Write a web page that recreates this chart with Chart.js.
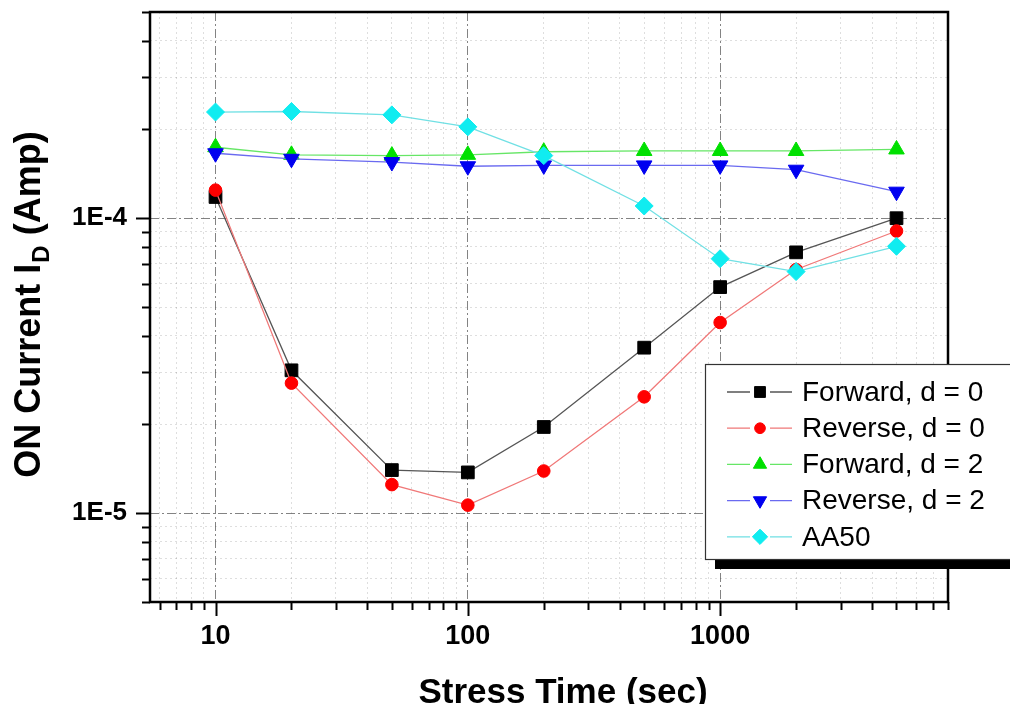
<!DOCTYPE html>
<html>
<head>
<meta charset="utf-8">
<script src="https://cdn.jsdelivr.net/npm/chart.js@4.4.1/dist/chart.umd.min.js"></script>
<style>
  html, body { margin: 0; padding: 0; background: #fff; }
  #wrap { width: 1010px; height: 704px; position: relative; overflow: hidden; }
</style>
</head>
<body>
<div id="wrap"><canvas id="chart" width="1010" height="704"></canvas></div>
<script>
// stress time (sec) and ON current (A) per device
const stressTime = [10, 20, 50, 100, 200, 500, 1000, 2000, 5000];
const forwardD0 = [1.18e-4, 3.05e-5, 1.40e-5, 1.375e-5, 1.96e-5, 3.64e-5, 5.84e-5, 7.66e-5, 1.0e-4];
const reverseD0 = [1.245e-4, 2.76e-5, 1.25e-5, 1.065e-5, 1.39e-5, 2.48e-5, 4.43e-5, 6.7e-5, 9.05e-5];
const forwardD2 = [1.74e-4, 1.64e-4, 1.63e-4, 1.64e-4, 1.68e-4, 1.69e-4, 1.69e-4, 1.69e-4, 1.71e-4];
const reverseD2 = [1.66e-4, 1.59e-4, 1.55e-4, 1.50e-4, 1.51e-4, 1.51e-4, 1.51e-4, 1.46e-4, 1.23e-4];
const aa50 = [2.29e-4, 2.30e-4, 2.24e-4, 2.04e-4, 1.63e-4, 1.10e-4, 7.29e-5, 6.59e-5, 8.03e-5];

const seriesLabels = ['Forward, d = 0', 'Reverse, d = 0', 'Forward, d = 2', 'Reverse, d = 2', 'AA50'];

// tick positions (log axes, one mark per 1..9 step) and the ones that get a label
const xTicks = [6, 7, 8, 9, 10, 20, 30, 40, 50, 60, 70, 80, 90, 100, 200, 300, 400, 500, 600, 700, 800, 900,
  1000, 2000, 3000, 4000, 5000, 6000, 7000, 8000];
const xLabels = [10, 100, 1000];
const yTicks = [5e-6, 6e-6, 7e-6, 8e-6, 9e-6, 1e-5, 2e-5, 3e-5, 4e-5, 5e-5, 6e-5, 7e-5, 8e-5, 9e-5,
  1e-4, 2e-4, 3e-4, 4e-4, 5e-4];
const yLabels = ['1E-5', '1E-4'];
const yLabelValues = [1e-5, 1e-4];

const isDecade = v => Math.abs(Math.log10(v) - Math.round(Math.log10(v))) < 1e-6;
const sameVal = (a, b) => Math.abs(a - b) / b < 1e-6;

const styles = [
  { line: '#555555', point: '#000000', pointStyle: 'rect', radius: 9, rotation: 0 },
  { line: '#f07878', point: '#ff0000', pointStyle: 'circle', radius: 6.3, rotation: 0 },
  { line: '#66e666', point: '#00e000', pointStyle: 'triangle', radius: 9, rotation: 0 },
  { line: '#6a6af0', point: '#0000f0', pointStyle: 'triangle', radius: 9, rotation: 180 },
  { line: '#70e0e4', point: '#10ecf0', pointStyle: 'rectRot', radius: 9, rotation: 0 }
];
const values = [forwardD0, reverseD0, forwardD2, reverseD2, aa50];

const datasets = values.map((vals, i) => ({
  label: seriesLabels[i],
  data: stressTime.map((t, j) => ({ x: t, y: vals[j] })),
  borderColor: styles[i].line,
  backgroundColor: styles[i].point,
  borderWidth: 1.3,
  pointStyle: styles[i].pointStyle,
  pointRotation: styles[i].rotation,
  pointRadius: styles[i].radius,
  pointBackgroundColor: styles[i].point,
  pointBorderColor: styles[i].point,
  pointBorderWidth: 1,
  tension: 0,
  order: values.length - i
}));

const gridColor = ctx => (ctx.tick && isDecade(ctx.tick.value)) ? 'rgba(90,90,90,0.75)' : 'rgba(0,0,0,0.13)';
const gridDash = ctx => (ctx.tick && isDecade(ctx.tick.value)) ? [9, 3, 2, 3] : [2, 3];

// keep the plot box fixed: no extra room for half-labels at the ends
const noEndPadding = (size) => s => {
  if (s.isHorizontal()) s.height = size; else s.width = size;
  s.paddingTop = 0; s.paddingBottom = 0; s.paddingLeft = 0; s.paddingRight = 0;
};

// frame, outside tick marks, axis titles and the boxed legend
const decorations = {
  id: 'decorations',
  afterDraw(chart) {
    const { ctx, chartArea: a, scales } = chart;
    ctx.save();

    // tick marks
    ctx.strokeStyle = '#000';
    ctx.lineWidth = 2;
    xTicks.forEach(v => {
      const px = Math.round(scales.x.getPixelForValue(v)) + 0.5;
      const len = isDecade(v) ? 14 : 8;
      ctx.beginPath();
      ctx.moveTo(px, a.bottom);
      ctx.lineTo(px, a.bottom + len);
      ctx.stroke();
    });
    yTicks.forEach(v => {
      const py = Math.round(scales.y.getPixelForValue(v)) + 0.5;
      const len = isDecade(v) ? 14 : 8;
      ctx.beginPath();
      ctx.moveTo(a.left, py);
      ctx.lineTo(a.left - len, py);
      ctx.stroke();
    });

    // frame
    ctx.lineWidth = 2.5;
    ctx.strokeRect(a.left, a.top, a.right - a.left, a.bottom - a.top);

    // x title
    ctx.fillStyle = '#000';
    ctx.font = 'bold 35px "Liberation Sans", Arial, sans-serif';
    ctx.textAlign = 'center';
    ctx.textBaseline = 'alphabetic';
    ctx.fillText('Stress Time (sec)', 563, 703);

    // y title with subscript
    ctx.save();
    ctx.translate(40, 305);
    ctx.rotate(-Math.PI / 2);
    const big = 'bold 36px "Liberation Sans", Arial, sans-serif';
    const small = 'bold 24px "Liberation Sans", Arial, sans-serif';
    const p1 = 'ON Current I', p2 = 'D', p3 = ' (Amp)';
    ctx.font = big;
    const w1 = ctx.measureText(p1).width, w3 = ctx.measureText(p3).width;
    ctx.font = small;
    const w2 = ctx.measureText(p2).width;
    let x0 = -(w1 + w2 + w3) / 2;
    ctx.textAlign = 'left';
    ctx.font = big;
    ctx.fillText(p1, x0, 0);
    ctx.font = small;
    ctx.fillText(p2, x0 + w1 + 1, 9);
    ctx.font = big;
    ctx.fillText(p3, x0 + w1 + w2 + 1, 0);
    ctx.restore();

    // legend box with drop shadow
    const bx = 705, by = 364, bw = 330, bh = 195;
    ctx.fillStyle = '#000';
    ctx.fillRect(bx + 10, by + 10, bw, bh);
    ctx.fillStyle = '#fff';
    ctx.fillRect(bx, by, bw, bh);
    ctx.lineWidth = 1.2;
    ctx.strokeStyle = '#333';
    ctx.strokeRect(bx + 0.5, by + 0.5, bw, bh);

    ctx.font = '28px "Liberation Sans", Arial, sans-serif';
    ctx.textAlign = 'left';
    ctx.textBaseline = 'middle';
    chart.data.datasets.forEach((ds, i) => {
      const cy = 392 + i * 36.2;
      ctx.strokeStyle = ds.borderColor;
      ctx.lineWidth = 1.3;
      ctx.beginPath();
      ctx.moveTo(727, cy); ctx.lineTo(750, cy);
      ctx.moveTo(770, cy); ctx.lineTo(792, cy);
      ctx.stroke();
      ctx.fillStyle = ds.pointBackgroundColor;
      ctx.strokeStyle = ds.pointBorderColor;
      ctx.lineWidth = 1;
      Chart.helpers.drawPoint(ctx, {
        pointStyle: ds.pointStyle,
        rotation: ds.pointRotation,
        radius: ds.pointRadius * 0.85,
        borderWidth: 1
      }, 760, cy);
      ctx.fillStyle = '#000';
      ctx.fillText(ds.label, 802, cy + 1);
    });

    ctx.restore();
  }
};

new Chart(document.getElementById('chart'), {
  type: 'line',
  data: { datasets },
  options: {
    responsive: false,
    animation: false,
    events: [],
    layout: { padding: { top: 12, right: 62, left: 0, bottom: 0 } },
    plugins: { legend: { display: false }, tooltip: { enabled: false } },
    scales: {
      x: {
        type: 'logarithmic',
        min: 5.5,
        max: 8000,
        afterBuildTicks: s => { s.ticks = xTicks.map(v => ({ value: v })); },
        afterFit: noEndPadding(102),
        ticks: {
          autoSkip: false,
          maxRotation: 0,
          padding: 18,
          color: '#000',
          font: { family: '"Liberation Sans", Arial, sans-serif', size: 27, weight: 'bold' },
          callback: v => xLabels.find(l => sameVal(v, l)) ? String(v) : ''
        },
        grid: { drawTicks: false, color: gridColor, lineWidth: 1 },
        border: { display: false, dash: gridDash }
      },
      y: {
        type: 'logarithmic',
        min: 5e-6,
        max: 5e-4,
        afterBuildTicks: s => { s.ticks = yTicks.map(v => ({ value: v })); },
        afterFit: noEndPadding(150),
        ticks: {
          autoSkip: false,
          padding: 23,
          color: '#000',
          font: { family: '"Liberation Sans", Arial, sans-serif', size: 26, weight: 'bold' },
          callback: v => {
            const k = yLabelValues.findIndex(l => sameVal(v, l));
            return k >= 0 ? yLabels[k] : '';
          }
        },
        grid: { drawTicks: false, color: gridColor, lineWidth: 1 },
        border: { display: false, dash: gridDash }
      }
    }
  },
  plugins: [decorations]
});
</script>
</body>
</html>
